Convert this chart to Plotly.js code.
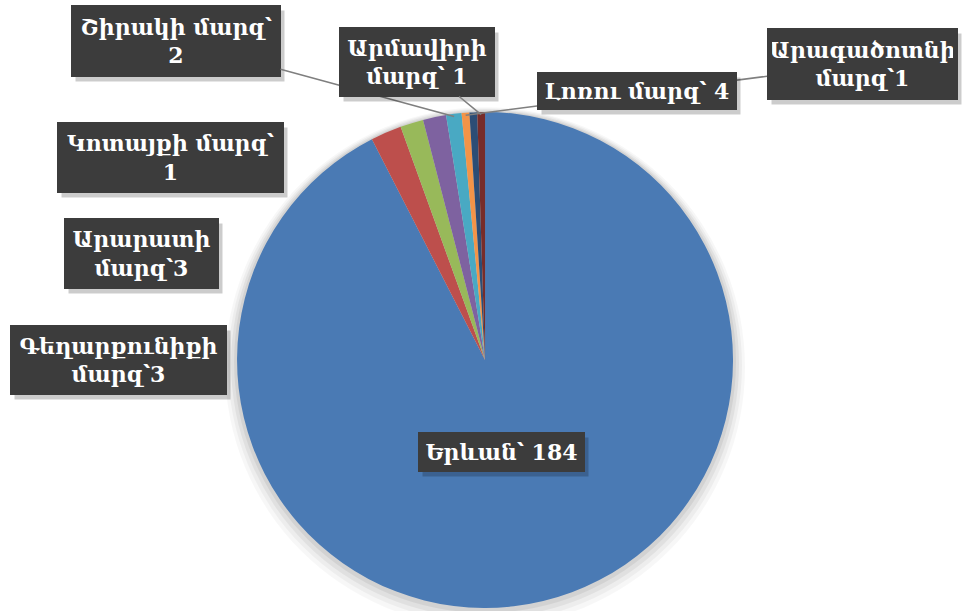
<!DOCTYPE html>
<html>
<head>
<meta charset="utf-8">
<script src="https://cdn.plot.ly/plotly-3.0.1.min.js"></script>
<style>html,body{margin:0;padding:0;background:#fff;}#chart{width:964px;height:611px;}</style>
</head>
<body>
<div id="chart"></div>
<script>
// Data (clockwise from 12 o'clock)
const regions = ["Երևան", "Լոռու մարզ", "Գեղարքունիքի մարզ", "Արարատի մարզ", "Շիրակի մարզ", "Արագածոտնի մարզ", "Կոտայքի մարզ", "Արմավիրի մարզ"];
const sliceValues = [184, 4, 3, 3, 2, 1, 1, 1];
const labelTexts = [
  "Երևան՝ 184",
  "Լոռու մարզ՝ 4",
  "Գեղարքունիքի<br>մարզ՝3",
  "Արարատի<br>մարզ՝3",
  "Շիրակի մարզ՝<br>2",
  "Արագածոտնի<br>մարզ՝1",
  "Կոտայքի մարզ՝<br>1",
  "Արմավիրի<br>մարզ՝ 1"
];
const sliceColors = ["#4a7ab4", "#bd4f4c", "#98b95a", "#7e62a0", "#49a9c3", "#f39448", "#2c4d75", "#772c2a"];

// Layout geometry
const W = 964, H = 611;
const dom = {x: [0.2459, 0.7604], y: [0.0049, 0.8167]};
const cx = (dom.x[0] + dom.x[1]) / 2 * W;
const cy = (1 - (dom.y[0] + dom.y[1]) / 2) * H;
const R = Math.min((dom.x[1] - dom.x[0]) * W, (dom.y[1] - dom.y[0]) * H) / 2;

// label box centre x, y, box width, box height (pixels), leader line
const boxPos = [
  [501, 452, 167, 40, false],
  [637, 91, 200, 38, false],
  [118, 360, 217, 70, false],
  [141, 253, 155, 71, false],
  [176, 41, 210, 72, true],
  [862, 64, 191, 72, true],
  [170, 157, 227, 71, false],
  [417, 62, 156, 70, true]
];

const total = sliceValues.reduce((a, b) => a + b, 0);
let cum = 0;
const anns = [];
const shadows = [];
const PAD = 4, BW = 1;
const baseFont = {family: "DejaVu Serif", size: 22, color: "#ffffff"};
sliceValues.forEach((v, i) => {
  const mid = (cum + v / 2) / total * 2 * Math.PI;
  cum += v;
  const tx = cx + R * 0.99 * Math.sin(mid);
  const ty = cy - R * 0.99 * Math.cos(mid);
  const [bx, by, bw, bh, arrow] = boxPos[i];
  const w = bw - 2 * (PAD + BW), h = bh - 2 * (PAD + BW);
  const a = {
    text: "<b>" + labelTexts[i] + "</b>",
    font: baseFont,
    bgcolor: "#3c3c3c",
    bordercolor: "#3c3c3c", borderwidth: BW,
    borderpad: PAD, width: w, height: h,
    align: "center", valign: "middle",
    xref: "paper", yref: "paper"
  };
  shadows.push({
    text: " ",
    font: baseFont,
    bgcolor: "rgba(0,0,0,0.2)",
    bordercolor: "rgba(0,0,0,0)", borderwidth: BW,
    borderpad: PAD, width: w, height: h,
    xref: "paper", yref: "paper",
    x: bx / W, y: 1 - by / H, showarrow: false, xanchor: "center", yanchor: "middle",
    xshift: 4, yshift: -5
  });
  if (arrow) {
    Object.assign(a, {
      x: tx / W, y: 1 - ty / H,
      showarrow: true, arrowhead: 0, arrowwidth: 1.6, arrowcolor: "#7f7f7f",
      ax: bx - tx, ay: by - ty
    });
  } else {
    Object.assign(a, {x: bx / W, y: 1 - by / H, showarrow: false, xanchor: "center", yanchor: "middle"});
  }
  anns.push(a);
});
// draw order: leader lines behind boxes
const order = [5, 4, 7, 1, 6, 3, 2, 0];
const annotations = [];
order.forEach(i => { annotations.push(shadows[i]); annotations.push(anns[i]); });

// soft shadow under pie
const shapes = [];
[[12, 0.03], [9, 0.04], [6, 0.05], [3, 0.06]].forEach(([d, al]) => {
  const rr = R + d, ccy = cy + d * 0.6;
  shapes.push({
    type: "circle", layer: "below", xref: "paper", yref: "paper",
    x0: (cx - rr) / W, x1: (cx + rr) / W, y0: 1 - (ccy + rr) / H, y1: 1 - (ccy - rr) / H,
    fillcolor: "rgba(0,0,0," + al + ")", line: {width: 0}
  });
});

const trace = {
  type: "pie",
  labels: regions,
  values: sliceValues,
  sort: false,
  direction: "clockwise",
  rotation: 0,
  textinfo: "none",
  marker: {colors: sliceColors, line: {width: 0}},
  domain: dom,
  showlegend: false
};

Plotly.newPlot("chart", [trace], {
  width: W, height: H,
  margin: {l: 0, r: 0, t: 0, b: 0},
  paper_bgcolor: "#ffffff",
  showlegend: false,
  annotations: annotations,
  shapes: shapes
}, {displayModeBar: false, staticPlot: true});
</script>
</body>
</html>
